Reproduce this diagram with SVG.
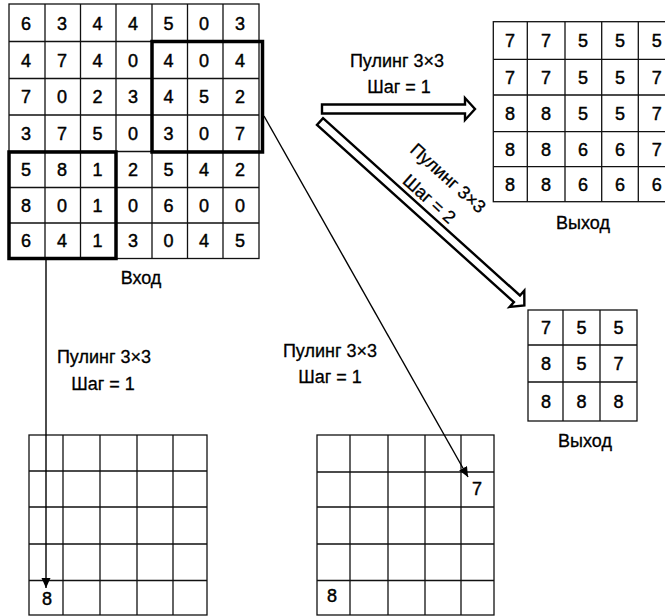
<svg xmlns="http://www.w3.org/2000/svg" width="665" height="616" viewBox="0 0 665 616">
<defs>
<style>
.g{fill:#fff;stroke:#111;stroke-width:1.3}
.l{stroke:#111;stroke-width:1.3;fill:none}
.tk{fill:none;stroke:#000;stroke-width:3.5}
.d{font-family:"Liberation Sans",Arial,sans-serif;font-size:18px;fill:#000;stroke:#000;stroke-width:0.45;text-anchor:middle}
.lb{font-family:"Liberation Sans",Arial,sans-serif;font-size:18px;fill:#000;stroke:#000;stroke-width:0.3;text-anchor:middle}
.ha{fill:#fff;stroke:#000;stroke-width:2.4;stroke-linejoin:miter}
.ta{stroke:#000;stroke-width:1.4;fill:none}
</style>
<marker id="ah" markerUnits="userSpaceOnUse" markerWidth="12" markerHeight="10" refX="10" refY="4.5" orient="auto">
<path d="M0,0 L10,4.5 L0,9 z" fill="#000"/>
</marker>
</defs>

<g id="input">
<rect class="g" x="9" y="4" width="250" height="254.5"/>
<path class="l" d="M45,4V258.5M80.5,4V258.5M116,4V258.5M152,4V258.5M187.5,4V258.5M223,4V258.5M9,41.5H259M9,78.5H259M9,115H259M9,151.5H259M9,187.5H259M9,223H259"/>
<rect class="tk" x="152" y="41.5" width="110.5" height="110.5"/>
<rect class="tk" x="9" y="152" width="107" height="106.5"/>
<g class="d">
<text x="26" y="29.5">6</text><text x="62" y="29.5">3</text><text x="97.5" y="29.5">4</text><text x="133" y="29.5">4</text><text x="168.5" y="29.5">5</text><text x="204" y="29.5">0</text><text x="240" y="29.5">3</text>
<text x="26" y="66.5">4</text><text x="62" y="66.5">7</text><text x="97.5" y="66.5">4</text><text x="133" y="66.5">0</text><text x="168.5" y="66.5">4</text><text x="204" y="66.5">0</text><text x="240" y="66.5">4</text>
<text x="26" y="103.3">7</text><text x="62" y="103.3">0</text><text x="97.5" y="103.3">2</text><text x="133" y="103.3">3</text><text x="168.5" y="103.3">4</text><text x="204" y="103.3">5</text><text x="240" y="103.3">2</text>
<text x="26" y="139.8">3</text><text x="62" y="139.8">7</text><text x="97.5" y="139.8">5</text><text x="133" y="139.8">0</text><text x="168.5" y="139.8">3</text><text x="204" y="139.8">0</text><text x="240" y="139.8">7</text>
<text x="26" y="176">5</text><text x="62" y="176">8</text><text x="97.5" y="176">1</text><text x="133" y="176">2</text><text x="168.5" y="176">5</text><text x="204" y="176">4</text><text x="240" y="176">2</text>
<text x="26" y="211.8">8</text><text x="62" y="211.8">0</text><text x="97.5" y="211.8">1</text><text x="133" y="211.8">0</text><text x="168.5" y="211.8">6</text><text x="204" y="211.8">0</text><text x="240" y="211.8">0</text>
<text x="26" y="247.3">6</text><text x="62" y="247.3">4</text><text x="97.5" y="247.3">1</text><text x="133" y="247.3">3</text><text x="168.5" y="247.3">0</text><text x="204" y="247.3">4</text><text x="240" y="247.3">5</text>
</g>
<text class="lb" x="141" y="284">Вход</text>
</g>

<g id="output1">
<rect class="g" x="493.3" y="21.7" width="181.7" height="180"/>
<path class="l" d="M527.3,21.7V201.7M565,21.7V201.7M601.7,21.7V201.7M638.3,21.7V201.7M493.3,59.3H675M493.3,95H675M493.3,131.7H675M493.3,166.7H675"/>
<g class="d">
<text x="510" y="47">7</text><text x="546" y="47">7</text><text x="583" y="47">5</text><text x="620" y="47">5</text><text x="656.7" y="47">5</text>
<text x="510" y="83.7">7</text><text x="546" y="83.7">7</text><text x="583" y="83.7">5</text><text x="620" y="83.7">5</text><text x="656.7" y="83.7">7</text>
<text x="510" y="119.8">8</text><text x="546" y="119.8">8</text><text x="583" y="119.8">5</text><text x="620" y="119.8">5</text><text x="656.7" y="119.8">7</text>
<text x="510" y="155.7">8</text><text x="546" y="155.7">8</text><text x="583" y="155.7">6</text><text x="620" y="155.7">6</text><text x="656.7" y="155.7">7</text>
<text x="510" y="190.7">8</text><text x="546" y="190.7">8</text><text x="583" y="190.7">6</text><text x="620" y="190.7">6</text><text x="656.7" y="190.7">6</text>
</g>
<text class="lb" x="583" y="229">Выход</text>
</g>

<g id="output2">
<rect class="g" x="528" y="310" width="109" height="111"/>
<path class="l" d="M563,310V421M600,310V421M528,345H637M528,382H637"/>
<g class="d">
<text x="546" y="334">7</text><text x="581.5" y="334">5</text><text x="618.5" y="334">5</text>
<text x="546" y="370">8</text><text x="581.5" y="370">5</text><text x="618.5" y="370">7</text>
<text x="546" y="408">8</text><text x="581.5" y="408">8</text><text x="618.5" y="408">8</text>
</g>
<text class="lb" x="585" y="447">Выход</text>
</g>

<g id="grid-bl">
<rect class="g" x="29" y="435" width="178" height="180"/>
<path class="l" d="M63,435V615M100,435V615M137,435V615M173,435V615M29,471H207M29,507H207M29,544H207M29,580.5H207"/>
<text class="d" x="47" y="605">8</text>
</g>

<g id="grid-br">
<rect class="g" x="317" y="435" width="177" height="180"/>
<path class="l" d="M350,435V615M388,435V615M425,435V615M461,435V615M317,472H494M317,507H494M317,544H494M317,580.5H494"/>
<text class="d" x="477" y="494.5">7</text>
<text class="d" x="332" y="601.5">8</text>
</g>

<g id="connectors">
<polygon class="ha" transform="translate(322,109)" points="0,-4.5 143,-4.5 143,-11 153,0 143,11 143,4.5 0,4.5"/>
<polygon class="ha" transform="translate(320,121.5) rotate(42)" points="0,-4.5 265,-4.5 265,-11 275,0 265,11 265,4.5 0,4.5"/>
<line class="ta" x1="46" y1="258.5" x2="46" y2="588" marker-end="url(#ah)"/>
<line class="ta" x1="264" y1="116" x2="468" y2="477" marker-end="url(#ah)"/>
<text class="lb" x="397" y="66.5">Пулинг 3×3</text>
<text class="lb" x="399" y="92.5">Шаг = 1</text>
<g transform="translate(320,121.5) rotate(42)">
<text class="lb" x="133" y="-37.5">Пулинг 3×3</text>
<text class="lb" x="133" y="-9.5">Шаг = 2</text>
</g>
<text class="lb" x="104" y="363">Пулинг 3×3</text>
<text class="lb" x="103" y="390">Шаг = 1</text>
<text class="lb" x="330" y="357">Пулинг 3×3</text>
<text class="lb" x="330" y="383">Шаг = 1</text>
</g>
</svg>
